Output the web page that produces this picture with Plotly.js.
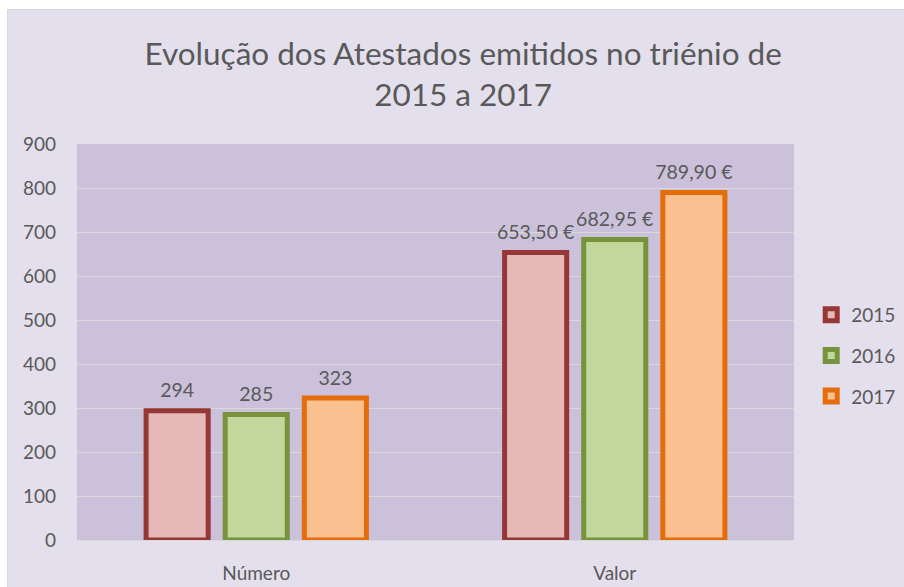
<!DOCTYPE html>
<html>
<head>
<meta charset="utf-8">
<script src="https://cdn.plot.ly/plotly-3.0.1.min.js"></script>
<style>
html,body{margin:0;padding:0;background:#ffffff;}
#chart{position:absolute;left:7px;top:9px;width:896px;height:577px;border-left:1px solid #D9D9D9;border-top:1px solid #D9D9D9;}
</style>
</head>
<body>
<div id="chart"></div>
<script>
const categories = ["Número", "Valor"];
const seriesNames = ["2015", "2016", "2017"];
const values2015 = [294, 653.50];
const values2016 = [285, 682.95];
const values2017 = [323, 789.90];
const yTicks = [0, 100, 200, 300, 400, 500, 600, 700, 800, 900];

const fillColors = ["#E6B9B8", "#C3D69B", "#FAC090"];
const lineColors = ["#953735", "#77933C", "#E46C0A"];
const textColor = "#595959";
const fontFamily = "Lato, 'Open Sans', sans-serif";

function fmt(v, i) {
  if (i === 0) return String(Math.round(v));
  return v.toFixed(2).replace('.', ',') + ' €';
}

const allValues = [values2015, values2016, values2017];
const traces = [];
allValues.forEach((vals, s) => {
  traces.push({
    type: 'bar',
    name: seriesNames[s],
    x: categories,
    y: vals,
    offsetgroup: String(s),
    legendgroup: seriesNames[s],
    marker: {color: fillColors[s], line: {color: lineColors[s], width: 5}},
    hoverinfo: 'skip'
  });
});
allValues.forEach((vals, s) => {
  traces.push({
    type: 'scatter',
    mode: 'markers+text',
    x: categories,
    y: vals,
    offsetgroup: String(s),
    text: vals.map((v, i) => fmt(v, i)),
    textposition: 'top center',
    textfont: {family: fontFamily, size: 19.5, color: textColor},
    showlegend: false,
    cliponaxis: false,
    hoverinfo: 'skip',
    marker: {size: 12, opacity: 0}
  });
});

const layout = {
  width: 896,
  height: 577,
  paper_bgcolor: '#E4DFEC',
  plot_bgcolor: '#CCC1DA',
  font: {family: fontFamily, color: textColor, size: 19},
  margin: {l: 69, r: 110, t: 134, b: 47, pad: 0, autoexpand: false},
  title: {
    text: 'Evolução dos Atestados emitidos no triénio de<br>2015 a 2017',
    font: {family: fontFamily, size: 31.5, color: textColor},
    xref: 'container', x: 0.508, xanchor: 'center',
    yref: 'container', y: 0.904, yanchor: 'top'
  },
  barmode: 'group',
  scattermode: 'group',
  bargap: 0.338,
  bargroupgap: 0.215,
  xaxis: {
    type: 'category',
    showgrid: false,
    showline: true,
    linecolor: '#D9D9D9',
    linewidth: 1,
    ticks: '',
    ticklabelstandoff: 16,
    tickfont: {family: fontFamily, size: 19, color: textColor},
    fixedrange: true
  },
  yaxis: {
    range: [0, 900],
    tickvals: yTicks,
    ticktext: yTicks.map(String),
    showgrid: true,
    gridcolor: '#D9D9D9',
    gridwidth: 1,
    zeroline: false,
    showline: false,
    ticks: '',
    ticklabelstandoff: 20,
    tickfont: {family: fontFamily, size: 19, color: textColor},
    fixedrange: true
  },
  legend: {
    x: 1.024, xanchor: 'left',
    y: 0.465, yanchor: 'middle',
    bgcolor: 'rgba(0,0,0,0)',
    font: {family: fontFamily, size: 19, color: textColor},
    tracegroupgap: 13,
    itemclick: false,
    itemdoubleclick: false
  },
  showlegend: true
};

Plotly.newPlot('chart', traces, layout, {displayModeBar: false, staticPlot: true});
</script>
</body>
</html>
